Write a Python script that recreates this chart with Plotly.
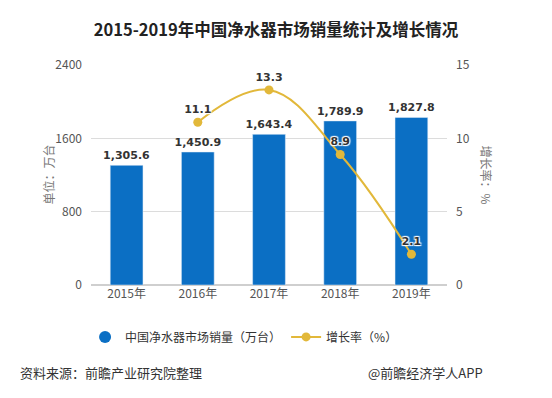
import plotly.graph_objects as go

years = ["2015年", "2016年", "2017年", "2018年", "2019年"]
sales = [1305.6, 1450.9, 1643.4, 1789.9, 1827.8]
sales_labels = ["1,305.6", "1,450.9", "1,643.4", "1,789.9", "1,827.8"]
growth_years = ["2016年", "2017年", "2018年", "2019年"]
growth = [11.1, 13.3, 8.9, 2.1]
growth_labels = ["11.1", "13.3", "8.9", "2.1"]

FONT = "Noto Sans CJK SC"
NUMFONT = "DejaVu Sans"
BLUE = "#0b6fc4"
GOLD = "#e2b83a"

fig = go.Figure()
fig.add_trace(go.Bar(
    x=years, y=sales, text=sales_labels, textposition="outside",
    constraintext="none",
    textfont=dict(size=11, color="#333", family=NUMFONT, weight="bold"),
    marker_color=BLUE, width=0.46, showlegend=False, cliponaxis=False,
))
# legend proxy for bars (circle)
fig.add_trace(go.Scatter(
    x=[None], y=[None], mode="markers", name="中国净水器市场销量（万台）",
    marker=dict(symbol="circle", size=12, color=BLUE),
))
fig.add_trace(go.Scatter(
    x=growth_years, y=growth, yaxis="y2", mode="lines+markers+text",
    name="增长率（%）", text=growth_labels, textposition="top center",
    textfont=dict(size=11, color="#333", family=NUMFONT, weight="bold",
                  shadow="1px 1px 1px white, -1px -1px 1px white, 1px -1px 1px white, -1px 1px 1px white"),
    line=dict(color=GOLD, width=2, shape="spline", smoothing=1.1),
    marker=dict(size=9, color=GOLD), cliponaxis=False,
))

fig.update_layout(
    width=552, height=398,
    margin=dict(l=91, r=105, t=65, b=113),
    paper_bgcolor="white", plot_bgcolor="white",
    font=dict(family=FONT, color="#555", size=11),
    title=dict(text="<b>2015-2019年中国净水器市场销量统计及增长情况</b>",
               x=0.5, xanchor="center", y=1 - 30 / 398, yanchor="middle",
               font=dict(size=16.5, color="#222", family=FONT)),
    xaxis=dict(showgrid=False, showline=False, ticks="",
               tickfont=dict(size=12, color="#555")),
    yaxis=dict(range=[0, 2400], tickvals=[0, 800, 1600, 2400],
               gridcolor="#dcdcdc", zeroline=True, zerolinecolor="#cfcfcf",
               tickfont=dict(size=12, color="#555"), ticklabelstandoff=8),
    yaxis2=dict(range=[0, 15], tickvals=[0, 5, 10, 15], overlaying="y",
                side="right", showgrid=False, zeroline=False,
                tickfont=dict(size=12, color="#555"), ticklabelstandoff=8),
    legend=dict(orientation="h", x=0.43, xanchor="center", y=-0.236,
                yanchor="middle", font=dict(size=12, color="#333"),
                itemwidth=30, tracegroupgap=20),
    bargap=0.54,
)

fig.add_annotation(text="单位：万台", xref="paper", yref="paper",
                   x=(37 - 91) / 356, y=(285 - 175) / 220, textangle=-90,
                   showarrow=False, font=dict(size=12, color="#777"))
fig.add_annotation(text="增长率：%", xref="paper", yref="paper",
                   x=(497 - 91) / 356, y=(285 - 175) / 220, textangle=90,
                   showarrow=False, font=dict(size=12, color="#777"))
fig.add_annotation(text="资料来源：前瞻产业研究院整理", xref="paper", yref="paper",
                   x=(18 - 91) / 356, xanchor="left", y=(285 - 372) / 220,
                   yanchor="middle", showarrow=False,
                   font=dict(size=13, color="#333"))
fig.add_annotation(text="@前瞻经济学人APP", xref="paper", yref="paper",
                   x=(485 - 91) / 356, xanchor="right", y=(285 - 372) / 220,
                   yanchor="middle", showarrow=False,
                   font=dict(size=13, color="#333"))

fig.write_html("out.html", config={"displayModeBar": False},
               post_script="document.body.style.margin='0';")
